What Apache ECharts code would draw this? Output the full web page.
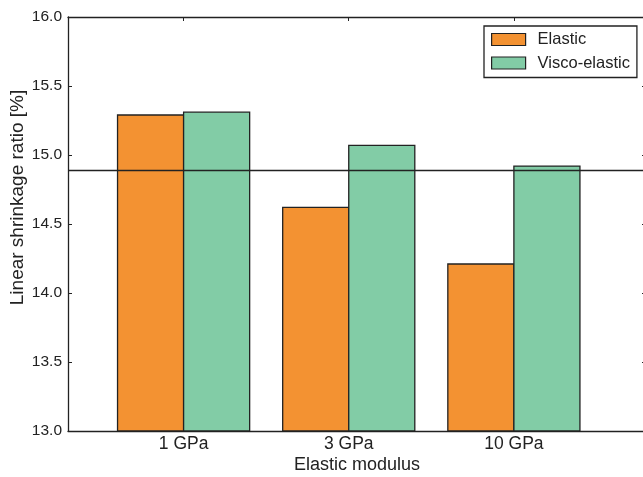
<!DOCTYPE html>
<html>
<head>
<meta charset="utf-8">
<script src="https://cdn.jsdelivr.net/npm/echarts@6/dist/echarts.min.js"></script>
<style>
html,body{margin:0;padding:0;background:#fff;}
#chart{width:643px;height:477px;}
</style>
</head>
<body>
<div id="chart"></div>
<script>
const categories = ['1 GPa', '3 GPa', '10 GPa'];
const elastic = [15.29, 14.62, 14.21];
const viscoElastic = [15.31, 15.07, 14.92];
const referenceLine = [14.89];
const yTicks = [13.0, 13.5, 14.0, 14.5, 15.0, 15.5, 16.0];

const FONT = 'Liberation Sans, Arial, Helvetica, sans-serif';
const INK = '#222';
const yMin = yTicks[0], yMax = yTicks[yTicks.length - 1];
const catIdx = categories.map((c, i) => i);
const BAR_W = 0.4;

function barRenderer(offset, color) {
  return function (params, api) {
    const x = api.value(0), v = api.value(1);
    const pTop = api.coord([x + offset, v]);
    const pBot = api.coord([x + offset + BAR_W, yMin]);
    return {
      type: 'rect',
      shape: { x: pTop[0], y: pTop[1], width: pBot[0] - pTop[0], height: pBot[1] - pTop[1] },
      style: { fill: color, stroke: INK, lineWidth: 1.3 }
    };
  };
}

const chart = echarts.init(document.getElementById('chart'), null, { renderer: 'canvas' });
const orange = '#F39232', green = '#82CCA6';
const axisLineStyle = { show: true, onZero: false, lineStyle: { color: INK, width: 1.3 } };

chart.setOption({
  animation: false,
  backgroundColor: '#fff',
  textStyle: { fontFamily: FONT },
  grid: { left: 68, top: 17, right: -3, bottom: 46, containLabel: false, outerBoundsMode: 'none' },
  legend: {
    orient: 'vertical',
    left: 484, top: 26,
    padding: [5, 7, 6, 7],
    itemGap: 6.5,
    itemWidth: 34, itemHeight: 12,
    icon: 'rect',
    borderColor: INK, borderWidth: 1.3, borderRadius: 0,
    itemStyle: { borderColor: INK, borderWidth: 1.2 },
    textStyle: { fontSize: 16.5, color: INK, fontFamily: FONT, lineHeight: 17, padding: [0, 0, 0, 7] },
    data: ['Elastic', 'Visco-elastic']
  },
  xAxis: [{
    type: 'value', position: 'bottom',
    min: -0.7, max: 2.8,
    name: 'Elastic modulus', nameLocation: 'middle', nameGap: 25, nameMoveOverlap: false,
    nameTextStyle: { fontSize: 18, color: INK, fontFamily: FONT },
    axisLine: axisLineStyle,
    splitLine: { show: false },
    axisTick: { show: true, inside: true, length: 4, customValues: catIdx, lineStyle: { color: INK } },
    axisLabel: { show: true, fontSize: 17.5, color: INK, margin: 4, customValues: catIdx, formatter: v => categories[Math.round(v)] }
  }, {
    type: 'value', position: 'top',
    min: -0.7, max: 2.8,
    axisLine: axisLineStyle,
    splitLine: { show: false },
    axisTick: { show: true, inside: true, length: 4, customValues: catIdx, lineStyle: { color: INK } },
    axisLabel: { show: false }
  }],
  yAxis: [{
    type: 'value', position: 'left',
    min: yMin, max: yMax, interval: 0.5,
    name: 'Linear shrinkage ratio [%]', nameLocation: 'middle', nameGap: 41, nameMoveOverlap: false,
    nameTextStyle: { fontSize: 19, color: INK, fontFamily: FONT, padding: [0, 0, 0, 53] },
    axisLine: axisLineStyle,
    splitLine: { show: false },
    axisTick: { show: true, inside: true, length: 4, lineStyle: { color: INK } },
    axisLabel: { fontSize: 15.5, color: INK, margin: 6, formatter: v => v.toFixed(1) }
  }, {
    type: 'value', position: 'right',
    min: yMin, max: yMax, interval: 0.5,
    axisLine: axisLineStyle,
    splitLine: { show: false },
    axisTick: { show: true, inside: true, length: 4, lineStyle: { color: INK } },
    axisLabel: { show: false }
  }],
  series: [{
    name: 'Elastic', type: 'custom',
    xAxisIndex: 0, yAxisIndex: 0,
    itemStyle: { color: orange },
    renderItem: barRenderer(-BAR_W, orange),
    encode: { x: 0, y: 1 },
    data: catIdx.map(i => [i, elastic[i]]),
    markLine: {
      silent: true, symbol: 'none',
      label: { show: false },
      lineStyle: { color: INK, width: 1.3, type: 'solid' },
      data: referenceLine.map(v => ({ yAxis: v }))
    },
    z: 2
  }, {
    name: 'Visco-elastic', type: 'custom',
    xAxisIndex: 0, yAxisIndex: 0,
    itemStyle: { color: green },
    renderItem: barRenderer(0, green),
    encode: { x: 0, y: 1 },
    data: catIdx.map(i => [i, viscoElastic[i]]),
    z: 2
  }]
});
</script>
</body>
</html>
